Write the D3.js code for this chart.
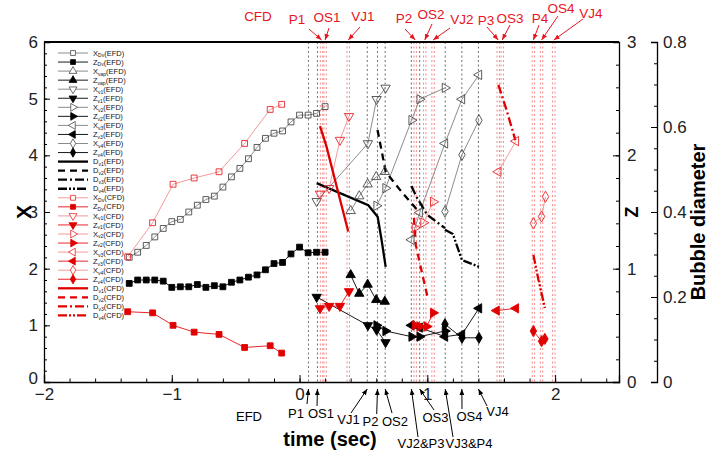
<!DOCTYPE html>
<html>
<head>
<meta charset="utf-8">
<script src="https://cdn.jsdelivr.net/npm/d3@7"></script>
<style>
  body { margin: 0; background: #fff; }
  svg { display: block; font-family: "Liberation Sans", Arial, sans-serif; }
</style>
</head>
<body>
<svg id="chart" width="709" height="453"></svg>
<script>
// ---------- event times (sec) ----------
const efdEventTimes = [0.07, 0.14, 0.53, 0.61, 0.67, 0.875, 0.94, 1.14, 1.27, 1.40];
const efdEventNames = ['P1', 'OS1', 'VJ1', 'P2', 'OS2', 'VJ2&P3', 'OS3', 'VJ3&P4', 'OS4', 'VJ4'];
const cfdEventTimes = [0.172, 0.20, 0.381, 0.905, 0.98, 1.045, 1.555, 1.586, 1.83, 1.894, 1.99];
const cfdEventNames = ['P1', 'OS1', 'VJ1', 'P2', 'OS2', 'VJ2', 'P3', 'OS3', 'P4', 'OS4', 'VJ4'];

// ---------- EFD measurements ----------
const tEfdDv = [-1.333, -1.267, -1.2, -1.133, -1.067, -1.0, -0.933, -0.867, -0.8, -0.733, -0.667, -0.6,
                -0.533, -0.467, -0.4, -0.333, -0.267, -0.2, -0.133, -0.067, 0.0, 0.067, 0.133, 0.2];
const xEfdDv = [2.20, 2.29, 2.41, 2.56, 2.71, 2.83, 2.87, 3.00, 3.12, 3.22, 3.28, 3.44,
                3.62, 3.77, 3.94, 4.14, 4.30, 4.39, 4.43, 4.59, 4.71, 4.71, 4.74, 4.86];
const zEfdDv = [0.87, 0.90, 0.90, 0.90, 0.89, 0.835, 0.84, 0.84, 0.86, 0.835, 0.85, 0.84,
                0.88, 0.90, 0.925, 0.945, 0.99, 1.045, 1.055, 1.13, 1.19, 1.14, 1.145, 1.145];

const tEfdVap = [0.40, 0.467, 0.533, 0.60, 0.667];
const xEfdVap = [3.02, 3.28, 3.49, 3.62, 3.71];
const zEfdVap = [0.945, 0.78, 0.86, 0.725, 0.71];

const tEfdV1 = [0.134, 0.535, 0.603, 0.673];
const xEfdV1 = [3.19, 4.21, 4.99, 5.19];
const zEfdV1 = [0.75, 0.50, 0.46, 0.35];

const tEfdV2 = [0.603, 0.673, 0.877, 0.94, 1.138];
const xEfdV2 = [3.11, 3.42, 4.62, 4.99, 5.19];
const zEfdV2 = [0.50, 0.45, 0.40, 0.40, 0.45];

const tEfdV3 = [0.875, 0.94, 1.138, 1.271, 1.404];
const xEfdV3 = [2.51, 2.99, 4.21, 4.99, 5.42];
const zEfdV3 = [0.50, 0.48, 0.40, 0.42, 0.65];

const tEfdV4 = [1.138, 1.271, 1.404];
const xEfdV4 = [3.01, 4.01, 4.62];
const zEfdV4 = [0.51, 0.39, 0.39];

const tEfdD1 = [0.134, 0.538, 0.611, 0.642, 0.674];
const dEfdD1 = [0.468, 0.416, 0.389, 0.334, 0.271];
const tEfdD2 = [0.61, 0.675, 0.80, 0.94];
const dEfdD2 = [0.593, 0.494, 0.447, 0.398];
const tEfdD3 = [0.875, 0.92, 1.0, 1.138];
const dEfdD3 = [0.461, 0.433, 0.393, 0.362];
const tEfdD4 = [1.138, 1.20, 1.271, 1.404];
const dEfdD4 = [0.358, 0.348, 0.287, 0.271];

// ---------- CFD results ----------
const tCfdDv = [-1.345, -1.15, -0.99, -0.825, -0.63, -0.43, -0.23, -0.14];
const xCfdDv = [2.21, 2.81, 3.49, 3.60, 3.71, 4.21, 4.81, 4.90];
const zCfdDv = [0.62, 0.61, 0.50, 0.44, 0.42, 0.305, 0.32, 0.255];

const tCfdV1 = [0.16, 0.232, 0.316, 0.387];
const xCfdV1 = [3.32, 3.42, 4.27, 4.69];
const zCfdV1 = [0.65, 0.67, 0.67, 0.80];

const tCfdV2 = [0.903, 0.97, 1.046];
const xCfdV2 = [2.72, 2.81, 3.18];
const tCfdZ2 = [0.903, 0.942, 0.995, 1.046];
const zCfdV2 = [0.50, 0.49, 0.49, 0.61];

const tCfdV3 = [1.555, 1.693];
const xCfdV3 = [3.71, 4.25];
const tCfdZ3 = [1.542, 1.693];
const zCfdV3 = [0.63, 0.65];

const tCfdV4 = [1.83, 1.894, 1.925];
const xCfdV4 = [2.80, 2.92, 3.27];
const tCfdZ4 = [1.83, 1.894, 1.92];
const zCfdV4 = [0.45, 0.36, 0.38];

const tCfdD1 = [0.16, 0.21, 0.264, 0.381];
const dCfdD1 = [0.602, 0.555, 0.491, 0.354];
const tCfdD2 = [0.895, 0.91, 0.95, 0.98, 1.0, 1.02];
const dCfdD2 = [0.386, 0.322, 0.268, 0.228, 0.202, 0.20];
const tCfdD3 = [1.556, 1.62, 1.689];
const dCfdD3 = [0.699, 0.64, 0.569];
const tCfdD4 = [1.83, 1.87, 1.92];
const dCfdD4 = [0.299, 0.24, 0.174];

// ---------- axis ticks ----------
const xTicks = [-2, -1, 0, 1, 2];
const leftTicks = [0, 1, 2, 3, 4, 5, 6];
const zTicks = [0, 1, 2, 3];
const dTicks = [0, 0.2, 0.4, 0.6, 0.8];

// ---------- styles ----------
const styles = {
  efdX: { line: '#8c8c8c', lw: 1, stroke: '#4a4a4a', fill: 'none' },
  efdZ: { line: '#1a1a1a', lw: 1, stroke: '#000', fill: '#000' },
  cfdX: { line: '#f39a9a', lw: 1, stroke: '#e8262b', fill: 'none' },
  cfdZ: { line: '#e8262b', lw: 1, stroke: '#e00000', fill: '#e00000' },
  efdD: { line: '#000', lw: 2.3 },
  cfdD: { line: '#e00000', lw: 2.3 }
};
const dashes = { solid: null, dash: '7,5', dashdot: '9,3,2,3', dashdotdot: '9,2,2,2,2,2' };

// series table (drawing order = legend order)
const series = [
  { lab: ['X', 'Dv', '(EFD)'], t: tEfdDv, v: xEfdDv, axis: 'X', st: 'efdX', sym: 'square' },
  { lab: ['Z', 'Dv', '(EFD)'], t: tEfdDv, v: zEfdDv, axis: 'Z', st: 'efdZ', sym: 'square' },
  { lab: ['X', 'vap', '(EFD)'], t: tEfdVap, v: xEfdVap, axis: 'X', st: 'efdX', sym: 'up' },
  { lab: ['Z', 'vap', '(EFD)'], t: tEfdVap, v: zEfdVap, axis: 'Z', st: 'efdZ', sym: 'up' },
  { lab: ['X', 'v1', '(EFD)'], t: tEfdV1, v: xEfdV1, axis: 'X', st: 'efdX', sym: 'down' },
  { lab: ['Z', 'v1', '(EFD)'], t: tEfdV1, v: zEfdV1, axis: 'Z', st: 'efdZ', sym: 'down' },
  { lab: ['X', 'v2', '(EFD)'], t: tEfdV2, v: xEfdV2, axis: 'X', st: 'efdX', sym: 'right' },
  { lab: ['Z', 'v2', '(EFD)'], t: tEfdV2, v: zEfdV2, axis: 'Z', st: 'efdZ', sym: 'right' },
  { lab: ['X', 'v3', '(EFD)'], t: tEfdV3, v: xEfdV3, axis: 'X', st: 'efdX', sym: 'left' },
  { lab: ['Z', 'v3', '(EFD)'], t: tEfdV3, v: zEfdV3, axis: 'Z', st: 'efdZ', sym: 'left' },
  { lab: ['X', 'v4', '(EFD)'], t: tEfdV4, v: xEfdV4, axis: 'X', st: 'efdX', sym: 'diamond' },
  { lab: ['Z', 'v4', '(EFD)'], t: tEfdV4, v: zEfdV4, axis: 'Z', st: 'efdZ', sym: 'diamond' },
  { lab: ['D', 'v1', '(EFD)'], t: tEfdD1, v: dEfdD1, axis: 'D', st: 'efdD', dash: 'solid' },
  { lab: ['D', 'v2', '(EFD)'], t: tEfdD2, v: dEfdD2, axis: 'D', st: 'efdD', dash: 'dash' },
  { lab: ['D', 'v3', '(EFD)'], t: tEfdD3, v: dEfdD3, axis: 'D', st: 'efdD', dash: 'dashdot' },
  { lab: ['D', 'v4', '(EFD)'], t: tEfdD4, v: dEfdD4, axis: 'D', st: 'efdD', dash: 'dashdotdot' },
  { lab: ['X', 'Dv', '(CFD)'], t: tCfdDv, v: xCfdDv, axis: 'X', st: 'cfdX', sym: 'square' },
  { lab: ['Z', 'Dv', '(CFD)'], t: tCfdDv, v: zCfdDv, axis: 'Z', st: 'cfdZ', sym: 'square' },
  { lab: ['X', 'v1', '(CFD)'], t: tCfdV1, v: xCfdV1, axis: 'X', st: 'cfdX', sym: 'down' },
  { lab: ['Z', 'v1', '(CFD)'], t: tCfdV1, v: zCfdV1, axis: 'Z', st: 'cfdZ', sym: 'down' },
  { lab: ['X', 'v2', '(CFD)'], t: tCfdV2, v: xCfdV2, axis: 'X', st: 'cfdX', sym: 'right' },
  { lab: ['Z', 'v2', '(CFD)'], t: tCfdZ2, v: zCfdV2, axis: 'Z', st: 'cfdZ', sym: 'right' },
  { lab: ['X', 'v3', '(CFD)'], t: tCfdV3, v: xCfdV3, axis: 'X', st: 'cfdX', sym: 'left' },
  { lab: ['Z', 'v3', '(CFD)'], t: tCfdZ3, v: zCfdV3, axis: 'Z', st: 'cfdZ', sym: 'left' },
  { lab: ['X', 'v4', '(CFD)'], t: tCfdV4, v: xCfdV4, axis: 'X', st: 'cfdX', sym: 'diamond' },
  { lab: ['Z', 'v4', '(CFD)'], t: tCfdZ4, v: zCfdV4, axis: 'Z', st: 'cfdZ', sym: 'diamond' },
  { lab: ['D', 'v1', '(CFD)'], t: tCfdD1, v: dCfdD1, axis: 'D', st: 'cfdD', dash: 'solid' },
  { lab: ['D', 'v2', '(CFD)'], t: tCfdD2, v: dCfdD2, axis: 'D', st: 'cfdD', dash: 'dash' },
  { lab: ['D', 'v3', '(CFD)'], t: tCfdD3, v: dCfdD3, axis: 'D', st: 'cfdD', dash: 'dashdot' },
  { lab: ['D', 'v4', '(CFD)'], t: tCfdD4, v: dCfdD4, axis: 'D', st: 'cfdD', dash: 'dashdotdot' }
];

// ---------- layout ----------
const plot = { left: 44, right: 619, top: 42, bottom: 382 };
const dAxisX = 657;
// annotation label layout: [textX, textY(baseline), arrowFromX, arrowFromY]
const cfdLabelPos = [
  [297, 24, 309, 29], [327, 22, 329, 28], [363, 21, 360, 27], [404, 23, 405, 29],
  [431, 19, 432, 24], [462, 24, 450, 28], [486, 25, 487, 27], [510, 23, 510, 25],
  [540, 23, 539, 25], [561, 13, 558, 16], [591, 18, 583, 19]
];
const efdLabelPos = [
  [296, 418, 307, 404], [321, 418, 317, 406], [348.5, 424, 351, 413], [370.5, 426, 376.7, 414],
  [395, 426, 392, 413], [421, 448, 418, 437], [435.5, 422, 434, 410], [469, 448, 453, 437],
  [469.5, 421, 462, 409], [497.5, 416, 487, 406]
];

const svg = d3.select('#chart');

const x = d3.scaleLinear().domain([-2, 2.5]).range([plot.left, plot.right]);
const yX = d3.scaleLinear().domain([0, 6]).range([plot.bottom, plot.top]);
const yZ = d3.scaleLinear().domain([0, 3]).range([plot.bottom, plot.top]);
const yD = d3.scaleLinear().domain([0, 0.8]).range([plot.bottom, plot.top]);
const yOf = { X: yX, Z: yZ, D: yD };

// arrowheads
const defs = svg.append('defs');
[['arrRed', '#e8141e'], ['arrBlk', '#000']].forEach(([id, c]) => {
  defs.append('marker').attr('id', id).attr('viewBox', '0 0 10 10')
    .attr('refX', 10).attr('refY', 5).attr('markerWidth', 6).attr('markerHeight', 6)
    .attr('orient', 'auto').attr('markerUnits', 'userSpaceOnUse')
    .append('path').attr('d', 'M0,1 L10,5 L0,9 Z').attr('fill', c);
});

// ---------- event lines ----------
const gEv = svg.append('g');
gEv.selectAll('line.efd').data(efdEventTimes).join('line')
  .attr('x1', d => x(d)).attr('x2', d => x(d))
  .attr('y1', plot.top).attr('y2', plot.bottom)
  .attr('stroke', '#7a7a7a').attr('stroke-width', 1.1).attr('stroke-dasharray', '2,2.5');
cfdEventTimes.forEach(t => {
  [-1.2, 1.2].forEach(off => {
    gEv.append('line')
      .attr('x1', x(t) + off).attr('x2', x(t) + off)
      .attr('y1', plot.top).attr('y2', plot.bottom)
      .attr('stroke', '#f28a8a').attr('stroke-width', 1).attr('stroke-dasharray', '2,2.5');
  });
});

// ---------- symbols ----------
function symbolPath(sym, k) {
  if (sym === 'square') return d3.symbol(d3.symbolSquare, 34 * k)();
  if (sym === 'diamond') return d3.symbol(d3.symbolDiamond, 36 * k)();
  return d3.symbol(d3.symbolTriangle, 38 * k)();
}
const rot = { up: 0, down: 180, right: 90, left: -90, square: 0, diamond: 0 };

// ---------- data lines and markers ----------
const gData = svg.append('g');
series.forEach(s => {
  const st = styles[s.st];
  const y = yOf[s.axis];
  const pts = s.t.map((t, i) => [t, s.v[i]]);
  gData.append('path').datum(pts)
    .attr('d', d3.line().x(d => x(d[0])).y(d => y(d[1])))
    .attr('fill', 'none').attr('stroke', st.line).attr('stroke-width', st.lw)
    .attr('stroke-dasharray', s.dash ? dashes[s.dash] : null);
});
series.filter(s => s.sym).forEach(s => {
  const st = styles[s.st];
  const y = yOf[s.axis];
  const pts = s.t.map((t, i) => [t, s.v[i]]);
  gData.selectAll(null).data(pts).join('path')
    .attr('d', symbolPath(s.sym, 1))
    .attr('transform', d => `translate(${x(d[0])},${y(d[1])}) rotate(${rot[s.sym]})`)
    .attr('fill', st.fill).attr('stroke', st.stroke).attr('stroke-width', 0.9);
});

// ---------- legend ----------
const gLeg = svg.append('g');
const legTop = 53, legStep = 9.05, legX0 = 58, legX1 = 88, legText = 93;
series.forEach((s, i) => {
  const st = styles[s.st];
  const yy = legTop + i * legStep;
  gLeg.append('line').attr('x1', legX0).attr('x2', legX1).attr('y1', yy).attr('y2', yy)
    .attr('stroke', st.line).attr('stroke-width', s.sym ? 1 : st.lw)
    .attr('stroke-dasharray', s.dash ? dashes[s.dash] : null);
  if (s.sym) {
    gLeg.append('path').attr('d', symbolPath(s.sym, 0.7))
      .attr('transform', `translate(${(legX0 + legX1) / 2},${yy}) rotate(${rot[s.sym]})`)
      .attr('fill', st.fill === 'none' ? '#fff' : st.fill)
      .attr('stroke', st.stroke).attr('stroke-width', 0.8);
  }
  const tx = gLeg.append('text').attr('x', legText).attr('y', yy + 2.6)
    .attr('font-size', 7.5).attr('fill', '#111');
  tx.append('tspan').text(s.lab[0]);
  tx.append('tspan').attr('font-size', 5).attr('dy', 1.8).text(s.lab[1]);
  tx.append('tspan').attr('dy', -1.8).text(s.lab[2]);
});

// ---------- axes ----------
const fs = 17;
// left X axis
const axL = svg.append('g').attr('transform', `translate(${plot.left},0)`)
  .call(d3.axisLeft(yX).tickValues(leftTicks).tickSize(-6).tickPadding(6).tickFormat(d3.format('d')));
svg.append('g').attr('transform', `translate(${plot.left},0)`)
  .call(d3.axisLeft(yX).tickValues(d3.range(0, 6.01, 0.2)).tickSize(-3).tickFormat(''))
  .call(g => g.select('.domain').remove());
// bottom time axis
const axB = svg.append('g').attr('transform', `translate(0,${plot.bottom})`)
  .call(d3.axisBottom(x).tickValues(xTicks).tickSize(-7).tickPadding(6).tickFormat(d3.format('d')));
svg.append('g').attr('transform', `translate(0,${plot.bottom})`)
  .call(d3.axisBottom(x).tickValues(d3.range(-2, 2.41, 0.2)).tickSize(-3.5).tickFormat(''))
  .call(g => g.select('.domain').remove());
// right Z axis
const axR = svg.append('g').attr('transform', `translate(${plot.right},0)`)
  .call(d3.axisRight(yZ).tickValues(zTicks).tickSize(-6).tickPadding(8).tickFormat(d3.format('d')));
svg.append('g').attr('transform', `translate(${plot.right},0)`)
  .call(d3.axisRight(yZ).tickValues(d3.range(0, 3.01, 0.2)).tickSize(-3).tickFormat(''))
  .call(g => g.select('.domain').remove());
// bubble diameter axis
const axD = svg.append('g').attr('transform', `translate(${dAxisX},0)`)
  .call(d3.axisRight(yD).tickValues(dTicks).tickSize(-6).tickPadding(6)
    .tickFormat(d => d === 0 ? '0' : d3.format('.1f')(d)));
svg.append('g').attr('transform', `translate(${dAxisX},0)`)
  .call(d3.axisRight(yD).tickValues(d3.range(0, 0.801, 0.05)).tickSize(-3).tickFormat(''))
  .call(g => g.select('.domain').remove());

[axL, axB, axR, axD].forEach(g => {
  g.selectAll('text').attr('font-size', fs).attr('font-family', '"Liberation Sans", Arial, sans-serif').attr('fill', '#222');
  g.select('.domain').attr('stroke', '#000').attr('stroke-width', 1.3);
});
// the left axis zero sits just above the first time label
axL.selectAll('.tick').filter(d => d === 0).select('text').attr('dy', '0.1em');
svg.selectAll('.tick line').attr('stroke', '#000').attr('stroke-width', 1);
// heavy top frame line
svg.append('line').attr('x1', plot.left).attr('x2', plot.right)
  .attr('y1', plot.top).attr('y2', plot.top).attr('stroke', '#000').attr('stroke-width', 2);

// axis titles
svg.append('text').attr('transform', `translate(24,${yX(3)}) rotate(-90)`)
  .attr('text-anchor', 'middle').attr('dy', '0.35em')
  .attr('font-size', 21).attr('font-weight', 'bold').text('X');
svg.append('text').attr('transform', `translate(632,${yZ(1.5)}) rotate(-90)`)
  .attr('text-anchor', 'middle').attr('dy', '0.35em')
  .attr('font-size', 18).attr('font-weight', 'bold').text('Z');
svg.append('text').attr('transform', `translate(698,${yD(0.4) + 10}) rotate(-90)`)
  .attr('text-anchor', 'middle').attr('dy', '0.35em')
  .attr('font-size', 20).attr('font-weight', 'bold').text('Bubble diameter');
svg.append('text').attr('x', 330).attr('y', 446).attr('text-anchor', 'middle')
  .attr('font-size', 20).attr('font-weight', 'bold').text('time (sec)');

// ---------- event annotations ----------
const gAnn = svg.append('g').attr('font-size', 13.5);
gAnn.append('text').attr('x', 258).attr('y', 21).attr('text-anchor', 'middle')
  .attr('fill', '#e8141e').text('CFD');
cfdEventNames.forEach((n, i) => {
  const p = cfdLabelPos[i];
  gAnn.append('text').attr('x', p[0]).attr('y', p[1]).attr('text-anchor', 'middle')
    .attr('fill', '#e8141e').text(n);
  gAnn.append('line').attr('x1', p[2]).attr('y1', p[3])
    .attr('x2', x(cfdEventTimes[i])).attr('y2', 40)
    .attr('stroke', '#e8141e').attr('stroke-width', 1).attr('marker-end', 'url(#arrRed)');
});
gAnn.append('text').attr('x', 249).attr('y', 421).attr('text-anchor', 'middle')
  .attr('font-size', 13).attr('fill', '#000').text('EFD');
efdEventNames.forEach((n, i) => {
  const p = efdLabelPos[i];
  gAnn.append('text').attr('x', p[0]).attr('y', p[1]).attr('text-anchor', 'middle')
    .attr('font-size', 13).attr('fill', '#000').text(n);
  gAnn.append('line').attr('x1', p[2]).attr('y1', p[3])
    .attr('x2', x(efdEventTimes[i])).attr('y2', 389)
    .attr('stroke', '#000').attr('stroke-width', 1).attr('marker-end', 'url(#arrBlk)');
});
</script>
</body>
</html>
